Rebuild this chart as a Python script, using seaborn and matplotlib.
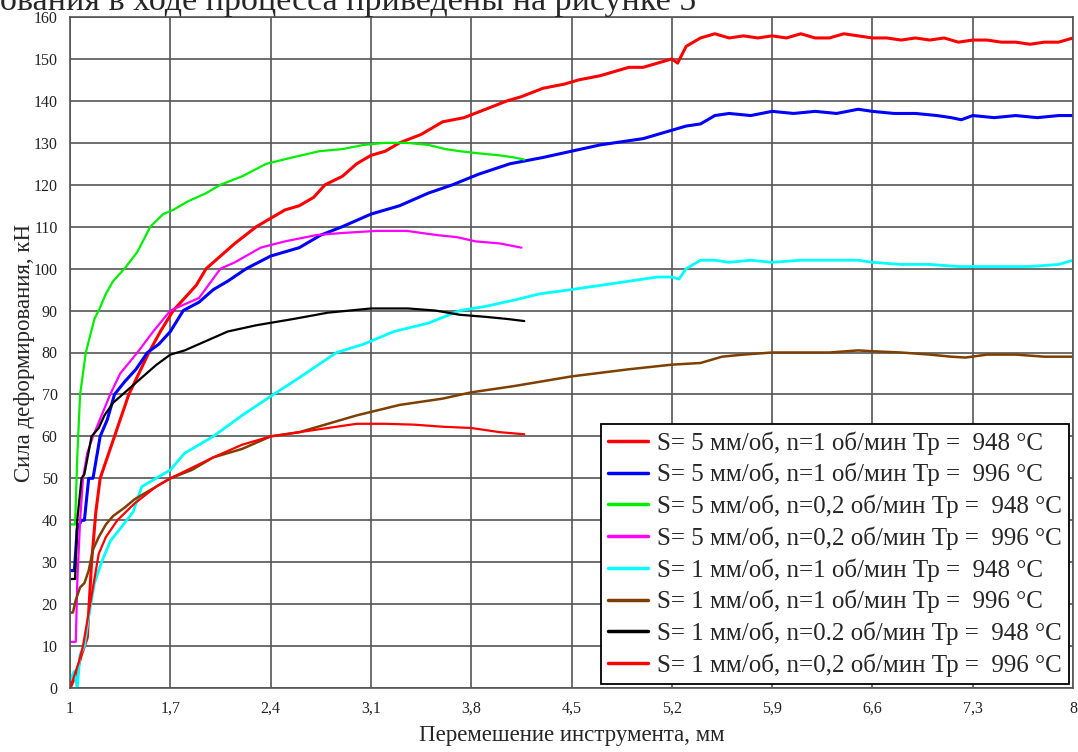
import numpy as np
import pandas as pd
import matplotlib
matplotlib.use("Agg")
import matplotlib.pyplot as plt
import seaborn as sns

# readings from the curves (displacement, mm / force, kN)
x_r1 = [1.0, 1.04, 1.08, 1.12, 1.15, 1.18, 1.21, 1.26, 1.31, 1.36, 1.41, 1.48, 1.55, 1.63, 1.72, 1.8, 1.88, 1.95,
        2.05, 2.15, 2.3, 2.4, 2.5, 2.6, 2.7, 2.78, 2.9, 3.0, 3.1, 3.2, 3.3, 3.45, 3.6, 3.75, 3.9, 4.05, 4.15, 4.3,
        4.45, 4.55, 4.7, 4.8, 4.9, 5.0, 5.1, 5.2, 5.24, 5.3, 5.4, 5.5, 5.6, 5.7, 5.8, 5.9, 6.0, 6.1, 6.2, 6.3, 6.4,
        6.5, 6.6, 6.7, 6.8, 6.9, 7.0, 7.1, 7.2, 7.3, 7.4, 7.5, 7.6, 7.7, 7.8, 7.9, 8.0]
y_r1 = [0, 3, 8, 12, 30, 42, 50, 55, 60, 65, 70, 75, 80, 85, 90, 93, 96, 100,
        103, 106, 110, 112, 114, 115, 117, 120, 122, 125, 127, 128, 130, 132, 135, 136, 138, 140, 141, 143,
        144, 145, 146, 147, 148, 148, 149, 150, 149, 153, 155, 156, 155, 155.5, 155, 155.5, 155, 156, 155, 155, 156,
        155.5, 155, 155, 154.5, 155, 154.5, 155, 154, 154.5, 154.5, 154, 154, 153.5, 154, 154, 155]

x_b1 = [1.0, 1.03, 1.05, 1.08, 1.1, 1.13, 1.16, 1.21, 1.26, 1.31, 1.38, 1.46, 1.54, 1.62, 1.7, 1.79, 1.9, 2.0,
        2.1, 2.23, 2.4, 2.6, 2.75, 2.9, 3.1, 3.3, 3.5, 3.67, 3.85, 4.07, 4.3, 4.5, 4.7, 4.9, 5.0, 5.2, 5.3, 5.4,
        5.5, 5.6, 5.75, 5.9, 6.05, 6.2, 6.35, 6.5, 6.6, 6.75, 6.9, 7.05, 7.15, 7.22, 7.3, 7.45, 7.6, 7.75, 7.9, 8.0]
y_b1 = [28, 28, 38, 40, 40, 50, 50, 60, 64, 70, 73, 76, 80, 82, 85, 90, 92, 95,
        97, 100, 103, 105, 108, 110, 113, 115, 118, 120, 122.5, 125, 126.5, 128, 129.5, 130.5, 131, 133, 134, 134.5,
        136.5, 137, 136.5, 137.5, 137, 137.5, 137, 138, 137.5, 137, 137, 136.5, 136, 135.5, 136.5, 136, 136.5, 136,
        136.5, 136.5]

x_g1 = [1.0, 1.035, 1.05, 1.07, 1.09, 1.11, 1.14, 1.17, 1.2, 1.25, 1.3, 1.38, 1.47, 1.56, 1.65, 1.72, 1.82, 1.95,
        2.05, 2.2, 2.37, 2.55, 2.74, 2.9, 3.05, 3.2, 3.35, 3.5, 3.62, 3.72, 3.85, 4.0, 4.1, 4.17]
y_g1 = [39, 39, 55, 70, 75, 80, 84, 88, 90, 94, 97, 100, 104, 110, 113, 114, 116, 118,
        120, 122, 125, 126.5, 128, 128.5, 129.5, 130, 130, 129.5, 128.5, 128, 127.5, 127, 126.5, 126]

x_m1 = [1.0, 1.04, 1.05, 1.07, 1.09, 1.12, 1.16, 1.22, 1.28, 1.35, 1.47, 1.58, 1.7, 1.8, 1.9, 2.05, 2.15, 2.33,
        2.5, 2.72, 2.9, 3.14, 3.35, 3.56, 3.7, 3.83, 4.0, 4.15]
y_m1 = [11, 11, 25, 40, 50, 56, 60, 65, 70, 75, 80, 85, 90, 91.5, 93, 100, 101.5, 105,
        106.5, 108, 108.5, 109, 109, 108, 107.5, 106.5, 106, 105]

x_c1 = [1.0, 1.03, 1.05, 1.07, 1.1, 1.13, 1.17, 1.22, 1.28, 1.35, 1.44, 1.5, 1.6, 1.7, 1.8, 1.9, 2.0, 2.2, 2.42,
        2.6, 2.86, 3.05, 3.26, 3.5, 3.72, 3.9, 4.1, 4.28, 4.5, 4.7, 4.9, 5.1, 5.2, 5.25, 5.3, 5.4, 5.5, 5.6, 5.75,
        5.9, 6.1, 6.3, 6.5, 6.6, 6.8, 7.0, 7.2, 7.3, 7.5, 7.7, 7.9, 8.0]
y_c1 = [2, 4, 0, 8, 10, 17, 25, 30, 35, 38, 42, 48, 50, 52, 56, 58, 60, 65, 70,
        74, 80, 82, 85, 87, 90, 91, 92.5, 94, 95, 96, 97, 98, 98, 97.5, 100, 102, 102, 101.5, 102,
        101.5, 102, 102, 102, 101.5, 101, 101, 100.5, 100.5, 100.5, 100.5, 101, 102]

x_br = [1.0, 1.02, 1.04, 1.07, 1.1, 1.13, 1.16, 1.2, 1.25, 1.3, 1.38, 1.45, 1.55, 1.7, 1.85, 2.0, 2.2, 2.4, 2.6,
        2.8, 3.0, 3.3, 3.6, 3.8, 4.1, 4.5, 4.9, 5.2, 5.4, 5.55, 5.7, 5.9, 6.1, 6.3, 6.5, 6.6, 6.8, 7.0, 7.15, 7.25,
        7.4, 7.6, 7.8, 8.0]
y_br = [18, 18, 21, 24, 25, 28, 33, 36, 39, 41, 43, 45, 47, 50, 52, 55, 57, 60, 61,
        63, 65, 67.5, 69, 70.5, 72, 74.3, 76, 77.1, 77.5, 79, 79.5, 80, 80, 80, 80.5, 80.3, 80, 79.5, 79, 78.8,
        79.5, 79.5, 79, 79]

x_k1 = [1.0, 1.035, 1.05, 1.08, 1.1, 1.15, 1.2, 1.24, 1.3, 1.4, 1.5, 1.6, 1.7, 1.8, 1.9, 2.1, 2.3, 2.56, 2.8,
        3.1, 3.36, 3.55, 3.72, 3.9, 4.05, 4.17]
y_k1 = [26, 26, 40, 50, 51, 60, 62, 65, 68, 71, 74, 77, 79.5, 80.5, 82, 85, 86.5, 88, 89.5,
        90.5, 90.5, 90, 89, 88.5, 88, 87.5]

x_r2 = [1.0, 1.03, 1.06, 1.09, 1.11, 1.14, 1.17, 1.2, 1.25, 1.33, 1.45, 1.6, 1.7, 1.85, 2.0, 2.2, 2.4, 2.6, 2.8,
        3.0, 3.2, 3.4, 3.6, 3.8, 4.0, 4.17]
y_r2 = [0, 3, 6, 10, 14, 20, 26, 32, 36, 40, 44, 48, 50, 52.5, 55, 58, 60, 61, 62,
        63, 63, 62.8, 62.3, 62, 61, 60.5]

labels = ["S= 5 мм/об, n=1 об/мин Тр =  948 °C",
          "S= 5 мм/об, n=1 об/мин Тр =  996 °C",
          "S= 5 мм/об, n=0,2 об/мин Тр =  948 °C",
          "S= 5 мм/об, n=0,2 об/мин Тр =  996 °C",
          "S= 1 мм/об, n=1 об/мин Тр =  948 °C",
          "S= 1 мм/об, n=1 об/мин Тр =  996 °C",
          "S= 1 мм/об, n=0.2 об/мин Тр =  948 °C",
          "S= 1 мм/об, n=0,2 об/мин Тр =  996 °C"]
colors = ["#ff0000", "#0000ff", "#00ee00", "#ff00ff", "#00ffff", "#7f3f00", "#000000", "#ff0000"]
widths = [2.2, 2.2, 1.6, 1.6, 2.0, 1.8, 1.6, 1.6]
series = [(x_r1, y_r1), (x_b1, y_b1), (x_g1, y_g1), (x_m1, y_m1),
          (x_c1, y_c1), (x_br, y_br), (x_k1, y_k1), (x_r2, y_r2)]

xticks = [1, 1.7, 2.4, 3.1, 3.8, 4.5, 5.2, 5.9, 6.6, 7.3, 8]
xtick_labels = ["1", "1,7", "2,4", "3,1", "3,8", "4,5", "5,2", "5,9", "6,6", "7,3", "8"]
yticks = list(range(0, 161, 10))

sns.set_style("white")
plt.rcParams["font.family"] = ["Liberation Serif", "DejaVu Serif"]

fig = plt.figure(figsize=(10.78, 7.52), dpi=100)
ax = fig.add_axes([0.065, 0.0851, 0.9304, 0.8923])

for lab, (xs, ys), c, w in zip(labels, series, colors, widths):
    d = pd.DataFrame({"x": xs, "y": ys})
    sns.lineplot(data=d, x="x", y="y", color=c, linewidth=w, sort=False,
                 estimator=None, ax=ax, label=lab)

ax.set_xlim(1, 8)
ax.set_ylim(0, 160)
ax.set_xticks(xticks)
ax.set_xticklabels(xtick_labels)
ax.set_yticks(yticks)
ax.tick_params(length=0, labelsize=11.5, pad=9, colors="#222222")
ax.grid(True, color="#555555", linewidth=1.2)
for sp in ax.spines.values():
    sp.set_color("#555555")
    sp.set_linewidth(1.2)

ax.set_xlabel("Перемешение инструмента, мм", fontsize=16.5, labelpad=6)
ax.set_ylabel("Сила деформирования, кН", fontsize=16.5, labelpad=-1)

handles = [plt.Line2D([], [], color=c, linewidth=2.5) for c in colors]
leg = ax.legend(handles, labels, loc="lower right", fontsize=18, frameon=True,
                fancybox=False, framealpha=1, edgecolor="black", borderaxespad=0.15,
                handlelength=1.6, labelspacing=0.33, handletextpad=0.35, borderpad=0.3)
leg.get_frame().set_linewidth(1.3)

fig.text(0.0, 1 - 10 / 752, "ования в ходе процесса приведены на рисунке 5",
         fontsize=24.5, va="baseline", ha="left")

fig.savefig("out.png", dpi=100)
